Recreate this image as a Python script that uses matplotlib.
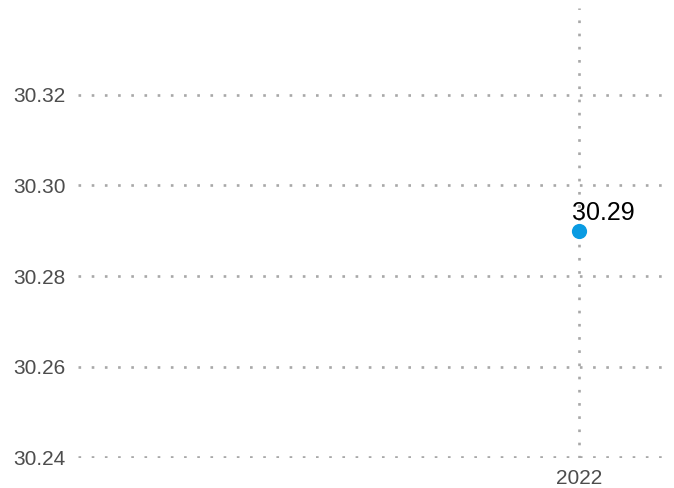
import matplotlib
matplotlib.use("Agg")
import matplotlib.pyplot as plt

years = [2022]
values = [30.29]
labels = ["30.29"]
yticks = [30.24, 30.26, 30.28, 30.30, 30.32]

plt.rcParams['font.family'] = ['Liberation Sans', 'DejaVu Sans']

fig = plt.figure(figsize=(6.74, 4.88), dpi=100)
ax = fig.add_axes([78/674, 30/488, 592/674, 450/488])

ax.scatter(years, values, s=120, color='#0a9be2', zorder=3, linewidths=0)
for x, y, t in zip(years, values, labels):
    ax.annotate(t, (x, y), xytext=(-7, 11), textcoords='offset pixels',
                ha='left', va='baseline', fontsize=18, color='black')

ax.set_xlim(2016.5, 2023.0)
ax.set_ylim(30.2398, 30.3392)
ax.set_yticks(yticks)
ax.set_yticklabels(["%.2f" % v for v in yticks])
ax.set_xticks(years)
ax.set_xticklabels([str(y) for y in years])

ax.grid(True, color='#a8a8a8', linestyle=(0, (1, 4)), linewidth=1.9)
ax.set_axisbelow(True)
for s in ax.spines.values():
    s.set_visible(False)
ax.tick_params(length=0, labelsize=15, labelcolor='#4d4d4d')
ax.tick_params(axis='y', pad=9)
ax.tick_params(axis='x', pad=8)

fig.savefig("out.png", dpi=100)
